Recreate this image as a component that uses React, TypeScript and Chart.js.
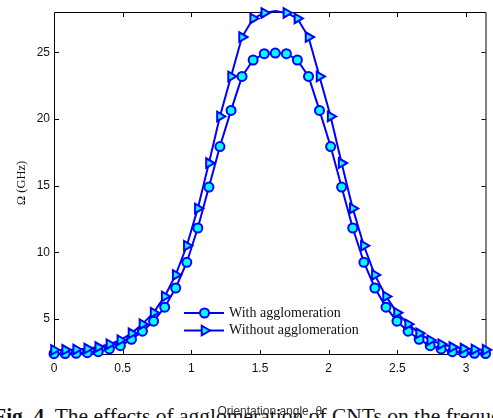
import React, { useEffect, useRef } from 'react';
import { Chart, registerables } from 'chart.js';

Chart.register(...registerables);

// Orientation angle θ (rad)
const thetaValues = [
  0, 0.081, 0.161, 0.242, 0.322, 0.403, 0.483, 0.564, 0.644, 0.725,
  0.806, 0.886, 0.967, 1.047, 1.128, 1.208, 1.289, 1.369, 1.45, 1.531,
  1.611, 1.692, 1.772, 1.853, 1.933, 2.014, 2.094, 2.175, 2.256, 2.336,
  2.417, 2.497, 2.578, 2.658, 2.739, 2.819, 2.9, 2.981, 3.061, 3.142,
];

// Ω (GHz) with agglomeration (circles)
const withAgglomeration = [
  2.4, 2.41, 2.43, 2.48, 2.55, 2.76, 3.0, 3.48, 4.09, 4.84,
  5.89, 7.33, 9.26, 11.83, 14.9, 17.94, 20.65, 23.2, 24.43, 24.9,
  24.95, 24.9, 24.43, 23.2, 20.65, 17.94, 14.9, 11.83, 9.26, 7.33,
  5.89, 4.84, 4.09, 3.48, 3.0, 2.76, 2.55, 2.48, 2.43, 2.41,
];

// Ω (GHz) without agglomeration (triangles)
const withoutAgglomeration = [
  2.68, 2.69, 2.72, 2.79, 2.9, 3.12, 3.42, 3.93, 4.62, 5.48,
  6.7, 8.31, 10.5, 13.3, 16.7, 20.2, 23.2, 26.15, 27.55, 27.96,
  28.1, 27.96, 27.55, 26.15, 23.2, 20.2, 16.7, 13.3, 10.5, 8.31,
  6.7, 5.48, 4.62, 3.93, 3.42, 3.12, 2.9, 2.79, 2.72, 2.69,
];

const seriesLabels = ['With agglomeration', 'Without agglomeration'];
const xTickValues = [0, 0.5, 1, 1.5, 2, 2.5, 3];
const yTickValues = [5, 10, 15, 20, 25];
const xRange = [0, Math.PI];
const yRange = [2.38, 28.03];

const BLUE = '#0000ff';
const CYAN = '#00ffff';

function drawMarker(ctx: CanvasRenderingContext2D, style: string, x: number, y: number, r: number) {
  ctx.beginPath();
  if (style === 'circle') {
    ctx.arc(x, y, r, 0, Math.PI * 2);
  } else {
    // right-pointing triangle, circumradius r
    ctx.moveTo(x + r, y);
    ctx.lineTo(x - r / 2, y - (Math.sqrt(3) / 2) * r);
    ctx.lineTo(x - r / 2, y + (Math.sqrt(3) / 2) * r);
    ctx.closePath();
  }
  ctx.fillStyle = CYAN;
  ctx.fill();
  ctx.lineWidth = 2;
  ctx.strokeStyle = BLUE;
  ctx.stroke();
}

const framePlugin = {
  id: 'matlabFrame',
  beforeDatasetsDraw(chart: any) {
    const { ctx, chartArea, scales } = chart;
    const { left, right, top, bottom } = chartArea;
    ctx.save();
    ctx.strokeStyle = '#000';
    ctx.lineWidth = 1;
    ctx.beginPath();
    ctx.rect(left + 0.5, top + 0.5, right - left, bottom - top);
    ctx.stroke();
    ctx.beginPath();
    for (const v of xTickValues) {
      const px = Math.round(scales.x.getPixelForValue(v)) + 0.5;
      ctx.moveTo(px, bottom);
      ctx.lineTo(px, bottom - 4);
      ctx.moveTo(px, top + 1);
      ctx.lineTo(px, top + 5);
    }
    for (const v of yTickValues) {
      const py = Math.round(scales.y.getPixelForValue(v)) + 0.5;
      ctx.moveTo(left + 1, py);
      ctx.lineTo(left + 5, py);
      ctx.moveTo(right, py);
      ctx.lineTo(right - 4, py);
    }
    ctx.stroke();
    ctx.restore();
  },
};

const legendPlugin = {
  id: 'matlabLegend',
  afterDraw(chart: any) {
    const { ctx, chartArea } = chart;
    const x0 = chartArea.left + 130;
    const rows = [
      { y: chartArea.bottom - 41, style: 'circle', r: 4.5, text: seriesLabels[0] },
      { y: chartArea.bottom - 23.5, style: 'triangle', r: 5.5, text: seriesLabels[1] },
    ];
    ctx.save();
    for (const row of rows) {
      ctx.beginPath();
      ctx.strokeStyle = BLUE;
      ctx.lineWidth = 2;
      ctx.moveTo(x0, row.y);
      ctx.lineTo(x0 + 40, row.y);
      ctx.stroke();
      drawMarker(ctx, row.style, x0 + 20.5, row.y, row.r);
      ctx.fillStyle = '#111';
      ctx.font = '14px "Liberation Serif", "Times New Roman", serif';
      ctx.textBaseline = 'middle';
      ctx.textAlign = 'left';
      ctx.fillText(row.text, x0 + 45, row.y);
    }
    ctx.restore();
  },
};

export default function App() {
  const ref = useRef<HTMLCanvasElement>(null);

  useEffect(() => {
    const canvas = ref.current;
    if (!canvas) return;
    const tickFont = { family: '"Liberation Sans", Arial, sans-serif', size: 12 };
    const chart = new Chart(canvas, {
      type: 'line',
      data: {
        datasets: [
          {
            label: seriesLabels[0],
            data: thetaValues.map((t, i) => ({ x: t, y: withAgglomeration[i] })),
            borderColor: BLUE,
            backgroundColor: CYAN,
            borderWidth: 2,
            pointStyle: 'circle',
            pointRadius: 4.5,
            pointBorderWidth: 2,
            pointBorderColor: BLUE,
            pointBackgroundColor: CYAN,
            clip: false,
            order: 1,
            tension: 0,
          },
          {
            label: seriesLabels[1],
            data: thetaValues.map((t, i) => ({ x: t, y: withoutAgglomeration[i] })),
            borderColor: BLUE,
            backgroundColor: CYAN,
            borderWidth: 2,
            pointStyle: 'triangle',
            pointRotation: 90,
            pointRadius: (c: any) => (c.raw && c.raw.y > yRange[1] ? 0 : 5.5),
            pointBorderWidth: 2,
            pointBorderColor: BLUE,
            pointBackgroundColor: CYAN,
            clip: false,
            order: 0,
            tension: 0,
          },
        ],
      },
      options: {
        animation: false,
        responsive: false,
        devicePixelRatio: 1,
        layout: { padding: { left: 0, top: 12, right: 5, bottom: 0 } },
        plugins: {
          legend: { display: false },
          tooltip: { enabled: false },
        },
        scales: {
          x: {
            type: 'linear',
            min: xRange[0],
            max: xRange[1],
            afterFit: (s: any) => {
              s.height = 64;
            },
            afterBuildTicks: (s: any) => {
              s.ticks = xTickValues.map((v) => ({ value: v }));
            },
            grid: { display: false, drawTicks: false },
            border: { display: false },
            ticks: {
              padding: 7,
              font: tickFont,
              color: '#111',
              maxRotation: 0,
              autoSkip: false,
              callback: (v: any) => String(v),
            },
            title: {
              display: true,
              text: 'Orientation angle, θ',
              color: '#333',
              font: { family: '"Liberation Sans", Arial, sans-serif', size: 12 },
              padding: { top: 0, bottom: -1 },
            },
          },
          y: {
            type: 'linear',
            min: yRange[0],
            max: yRange[1],
            afterFit: (s: any) => {
              s.width = 54;
            },
            afterBuildTicks: (s: any) => {
              s.ticks = yTickValues.map((v) => ({ value: v }));
            },
            grid: { display: false, drawTicks: false },
            border: { display: false },
            ticks: {
              padding: 4,
              font: tickFont,
              color: '#111',
              autoSkip: false,
              callback: (v: any) => String(v),
            },
            title: {
              display: true,
              text: 'Ω (GHz)',
              color: '#111',
              font: { family: '"Liberation Serif", "Times New Roman", serif', size: 12.5 },
              padding: { top: 14, bottom: 0 },
            },
          },
        },
      },
      plugins: [framePlugin, legendPlugin],
    } as any);
    return () => chart.destroy();
  }, []);

  return (
    <div
      style={{
        position: 'fixed',
        left: 0,
        top: 0,
        width: 493,
        height: 418,
        overflow: 'hidden',
        background: '#fff',
      }}
    >
      <div
        style={{
          position: 'absolute',
          left: -7,
          top: 406,
          whiteSpace: 'nowrap',
          fontFamily: '"Liberation Serif", "Times New Roman", serif',
          fontSize: 21.5,
          lineHeight: '21.5px',
          color: '#111',
        }}
      >
        <b>Fig. 4.</b> The effects of agglomeration of CNTs on the frequency
      </div>
      <canvas ref={ref} width={493} height={418} style={{ position: 'absolute', left: 0, top: 0, width: 493, height: 418 }} />
    </div>
  );
}
